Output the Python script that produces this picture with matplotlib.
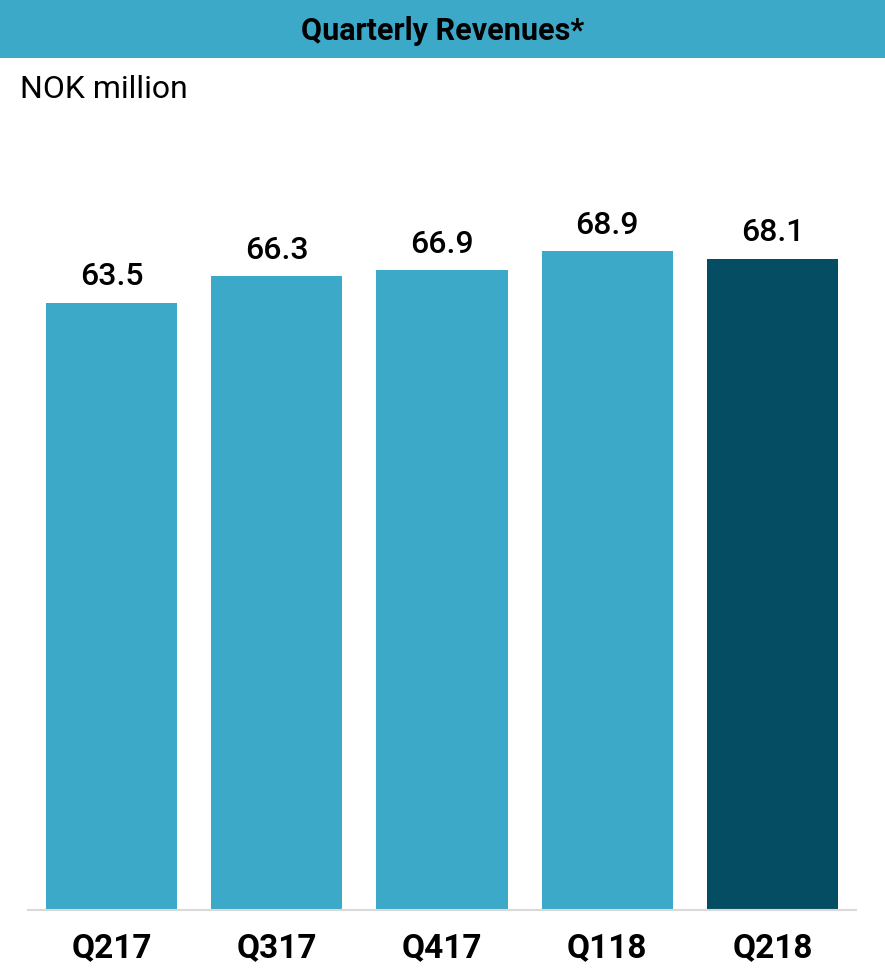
import matplotlib
matplotlib.use("Agg")
import matplotlib.pyplot as plt
from matplotlib.patches import Rectangle

plt.rcParams['font.family'] = ['Roboto', 'DejaVu Sans']

categories = ["Q217", "Q317", "Q417", "Q118", "Q218"]
values = [63.5, 66.3, 66.9, 68.9, 68.1]
colors = ["#3DA9C9", "#3DA9C9", "#3DA9C9", "#3DA9C9", "#044D63"]
title = "Quarterly Revenues*"
unit = "NOK million"

W, H = 885, 968
fig = plt.figure(figsize=(W / 100, H / 100), dpi=100)

# header bar
fig.patches.append(Rectangle((0, 1 - 58 / H), 1, 58 / H, transform=fig.transFigure,
                             facecolor="#3DA9C9", edgecolor="none", zorder=0))
fig.text(0.5, 1 - 31 / H, title, ha="center", va="center", fontsize=22,
         fontweight="bold", color="black")
fig.text(20 / W, 1 - 90 / H, unit, ha="left", va="center", fontsize=23, color="black")

left, right = 28 / W, 856 / W
bottom, top = 1 - 910 / H, 1 - 150 / H
ax = fig.add_axes([left, bottom, right - left, top - bottom])
x = range(len(categories))
bars = ax.bar(x, values, width=0.793, color=colors, zorder=2)
ax.set_xlim(-0.505, len(categories) - 1 + 0.505)
ax.set_ylim(0, 760 / 9.56)
for xi, v in zip(x, values):
    ax.text(xi, v + 1.2, f"{v:.1f}", ha="center", va="bottom", fontsize=23,
            fontweight="medium", color="black")
for s in ["top", "right", "left"]:
    ax.spines[s].set_visible(False)
ax.spines["bottom"].set_color("#D9D9D9")
ax.spines["bottom"].set_linewidth(1.5)
ax.set_yticks([])
ax.set_xticks(list(x))
ax.set_xticklabels(categories, fontsize=24, fontweight="bold")
ax.tick_params(axis="x", length=0, pad=16)

fig.savefig("out.png", dpi=100)
